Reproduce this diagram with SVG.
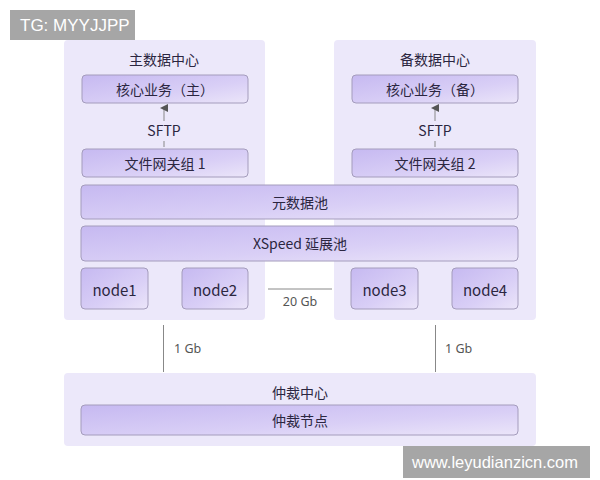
<svg xmlns="http://www.w3.org/2000/svg" width="600" height="480" viewBox="0 0 600 480">
<defs>
<linearGradient id="boxg" x1="0" y1="0" x2="1" y2="1">
<stop offset="0" stop-color="#c6b9f1"/>
<stop offset="0.6" stop-color="#d9cff6"/>
<stop offset="1" stop-color="#ebe5f9"/>
</linearGradient>
<marker id="arr" markerWidth="8" markerHeight="8" refX="4" refY="4" orient="auto" markerUnits="userSpaceOnUse">
<path d="M0,8 L4,0 L8,8 Z" fill="#555"/>
</marker>
</defs>
<style>
.bg{fill:#ffffff}
.dc{fill:#ece8fa}
.box{fill:url(#boxg);stroke:#a49cbc;stroke-width:1}
.t{font-family:"Noto Sans CJK SC","Noto Sans",sans-serif;fill:#2b2640;text-anchor:middle;dominant-baseline:central}
.s14{font-size:14px}
.s15{font-size:15px}
.lbl{font-family:"Noto Sans","Noto Sans CJK SC",sans-serif;font-size:12.5px;fill:#555}
.ln{stroke:#888;stroke-width:1;fill:none}
.wm{fill:#a6a6a6}
.wt{font-family:"Liberation Sans",Arial,sans-serif;fill:#ffffff}
</style>
<rect class="bg" x="0" y="0" width="600" height="480"/>

<g id="dc-main">
<rect class="dc" x="64" y="40" width="201" height="280" rx="4"/>
<text class="t s14" x="164" y="59">主数据中心</text>
</g>
<g id="dc-backup">
<rect class="dc" x="334" y="40" width="202" height="280" rx="4"/>
<text class="t s14" x="435" y="59">备数据中心</text>
</g>
<g id="dc-arb">
<rect class="dc" x="64" y="373" width="472" height="73" rx="4"/>
<text class="t s14" x="300" y="392">仲裁中心</text>
</g>

<g id="core-main">
<rect class="box" x="82" y="75" width="166" height="28" rx="4"/>
<text class="t s14" x="165" y="89">核心业务（主）</text>
</g>
<g id="core-backup">
<rect class="box" x="352" y="75" width="166" height="28" rx="4"/>
<text class="t s14" x="435" y="89">核心业务（备）</text>
</g>
<g id="gw1">
<rect class="box" x="82" y="149" width="166" height="28" rx="4"/>
<text class="t s14" x="165" y="163">文件网关组 1</text>
</g>
<g id="gw2">
<rect class="box" x="352" y="149" width="166" height="28" rx="4"/>
<text class="t s14" x="435" y="163">文件网关组 2</text>
</g>
<g id="meta">
<rect class="box" x="81" y="185" width="437" height="34" rx="4"/>
<text class="t s14" x="300" y="202">元数据池</text>
</g>
<g id="xspeed">
<rect class="box" x="81" y="226" width="437" height="35" rx="4"/>
<text class="t s14" x="300" y="243">XSpeed 延展池</text>
</g>
<g id="node1">
<rect class="box" x="81" y="268" width="67" height="41" rx="4"/>
<text class="t s15" x="114.5" y="289">node1</text>
</g>
<g id="node2">
<rect class="box" x="182" y="268" width="66" height="41" rx="4"/>
<text class="t s15" x="215" y="289">node2</text>
</g>
<g id="node3">
<rect class="box" x="351" y="268" width="67" height="41" rx="4"/>
<text class="t s15" x="384.5" y="289">node3</text>
</g>
<g id="node4">
<rect class="box" x="452" y="268" width="66" height="41" rx="4"/>
<text class="t s15" x="485" y="289">node4</text>
</g>
<g id="arb-node">
<rect class="box" x="81" y="405" width="437" height="30" rx="4"/>
<text class="t s14" x="300" y="420">仲裁节点</text>
</g>

<g id="connectors">
<line class="ln" x1="164" y1="121" x2="164" y2="108" marker-end="url(#arr)"/>
<text class="t s14" x="164" y="130">SFTP</text>
<line class="ln" x1="164" y1="141" x2="164" y2="147"/>
<line class="ln" x1="435" y1="121" x2="435" y2="108" marker-end="url(#arr)"/>
<text class="t s14" x="435" y="130">SFTP</text>
<line class="ln" x1="435" y1="141" x2="435" y2="147"/>
<line class="ln" x1="268" y1="289" x2="332" y2="289" stroke="#999"/>
<text class="lbl" x="300" y="306" text-anchor="middle">20 Gb</text>
<line class="ln" x1="163.5" y1="325" x2="163.5" y2="372"/>
<text class="lbl" x="174" y="353">1 Gb</text>
<line class="ln" x1="435.5" y1="325" x2="435.5" y2="372"/>
<text class="lbl" x="445" y="353">1 Gb</text>
</g>

<g id="watermarks">
<rect class="wm" x="10" y="10" width="125" height="30"/>
<text class="wt" x="20" y="31" font-size="17">TG: MYYJJPP</text>
<rect class="wm" x="403" y="446" width="187" height="32"/>
<text class="wt" x="412" y="468" font-size="16.5">www.leyudianzicn.com</text>
</g>
</svg>
